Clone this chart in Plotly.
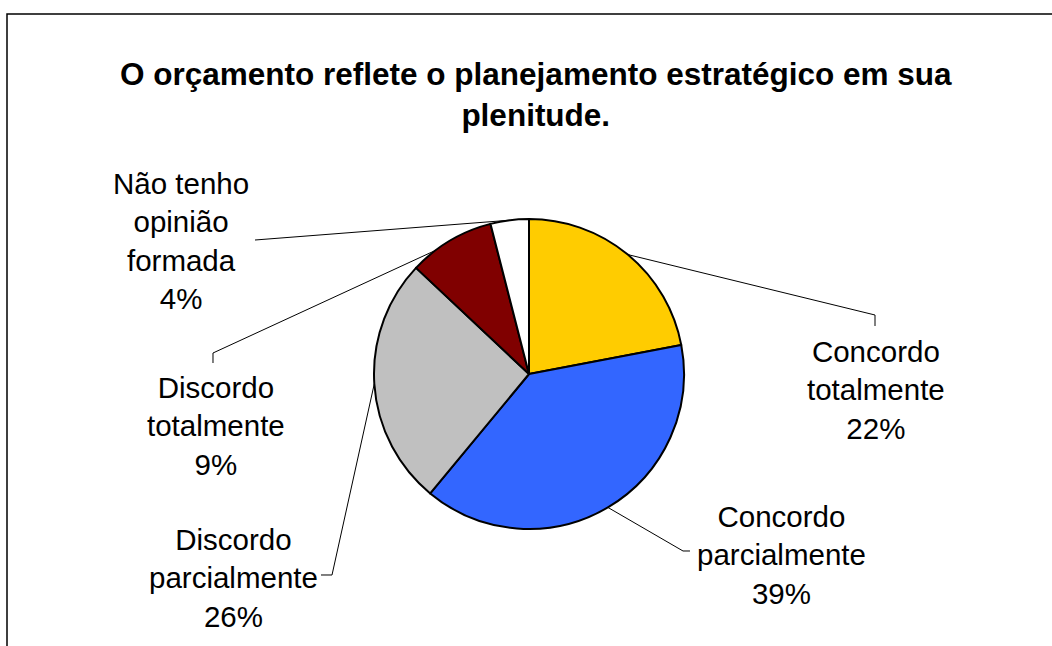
import math
import plotly.graph_objects as go

# Survey answers (pie slices, clockwise from 12 o'clock)
categories = ["Concordo totalmente", "Concordo parcialmente", "Discordo parcialmente",
              "Discordo totalmente", "Não tenho opinião formada"]
label_lines = ["Concordo<br>totalmente", "Concordo<br>parcialmente", "Discordo<br>parcialmente",
               "Discordo<br>totalmente", "Não tenho<br>opinião<br>formada"]
percent = [22, 39, 26, 9, 4]
colors = ["#FFCC00", "#3366FF", "#C0C0C0", "#800000", "#FFFFFF"]

TITLE = "O orçamento reflete o planejamento estratégico em sua<br>plenitude."

W, H = 1052, 646
FONT = "Liberation Sans, Arial, sans-serif"

# pie placement in pixels
CX, CY, R = 529, 374, 155

# label block centres and leader-line routes (pixels)
label_pos = [(876, 390), (781, 555), (234, 578), (216, 426), (181, 241)]
leader_route = [
    [(875, 315), (875, 326)],
    [(683, 551), (690, 551)],
    [(332, 575), (321, 575)],
    [(213, 353), (213, 363)],
    [(255, 240)],
]
attach_frac = [0.5, 0.5, 0.5, 0.3, 0.5]


def px(x, y):
    return x / W, 1 - y / H


fig = go.Figure()
fig.add_trace(go.Pie(
    values=percent,
    labels=categories,
    sort=False,
    direction="clockwise",
    rotation=0,
    textinfo="none",
    hoverinfo="label+percent",
    marker=dict(colors=colors, line=dict(color="#000000", width=2)),
    domain=dict(x=[(CX - R) / W, (CX + R) / W], y=[1 - (CY + R) / H, 1 - (CY - R) / H]),
    showlegend=False,
))

total = sum(percent)
shapes = []
annotations = []
start = 0.0
for i, v in enumerate(percent):
    frac = v / total
    ang = (start + frac * attach_frac[i]) * 2 * math.pi
    start += frac
    ax, ay = CX + R * math.sin(ang), CY - R * math.cos(ang)
    pts = [(ax, ay)] + leader_route[i]
    path = ""
    for j, (x, y) in enumerate(pts):
        xp, yp = px(x, y)
        path += ("M" if j == 0 else " L") + f"{xp:.5f},{yp:.5f}"
    shapes.append(dict(type="path", xref="paper", yref="paper", path=path,
                       line=dict(color="#000000", width=1)))
    lx, ly = px(*label_pos[i])
    annotations.append(dict(
        x=lx, y=ly, xref="paper", yref="paper", xanchor="center", yanchor="middle",
        text=f"{label_lines[i]}<br>{v}%", showarrow=False, align="center",
        font=dict(family=FONT, size=29.5, color="#000000"),
    ))

# chart title
tx, ty = px(536, 94)
annotations.append(dict(
    x=tx, y=ty, xref="paper", yref="paper", xanchor="center", yanchor="middle",
    text=f"<b>{TITLE}</b>", showarrow=False, align="center",
    font=dict(family=FONT, size=31.5, color="#000000"),
))

# chart-area frame (left and top edges visible)
x0, y0 = px(7, 14)
x1, y1 = px(1070, 670)
shapes.append(dict(type="rect", xref="paper", yref="paper", x0=x0, y0=y1, x1=x1, y1=y0,
                   line=dict(color="#000000", width=1.5), fillcolor="rgba(0,0,0,0)"))

fig.update_layout(
    width=W, height=H,
    margin=dict(l=0, r=0, t=0, b=0),
    paper_bgcolor="#FFFFFF",
    plot_bgcolor="#FFFFFF",
    shapes=shapes,
    annotations=annotations,
    font=dict(family=FONT),
)

fig.write_html("out.html")
